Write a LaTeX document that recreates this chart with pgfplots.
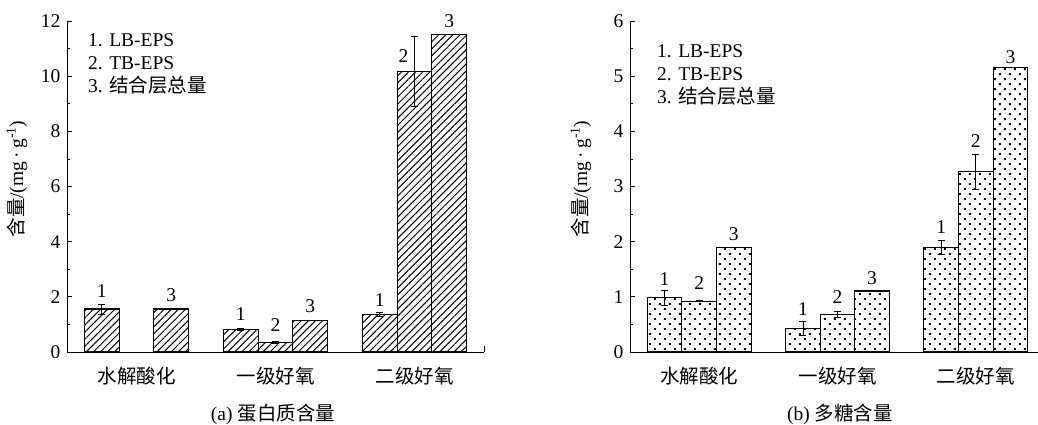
\documentclass[border=0pt]{standalone}
\usepackage{fontspec}
\setmainfont{Liberation Serif}
\newfontfamily\cjk{Noto Sans CJK SC}
\usepackage{pgfplots}
\usepackage{pgfplotstable}
\pgfplotsset{compat=1.18}
\usetikzlibrary{patterns.meta}
\newcommand\fsz{\fontsize{19.5pt}{23pt}\selectfont}

% protein (a)
\pgfplotstableread{
x y e
-0.25 1.56 0.18
0.75 0.83 0.04
1.75 1.36 0.08
}\protA
\pgfplotstableread{
x y e
1.00 0.35 0.02
2.00 10.16 1.27
}\protB
\pgfplotstableread{
x y
0.25 1.56
1.25 1.15
2.25 11.50
}\protC
% polysaccharide (b)
\pgfplotstableread{
x y e
-0.25 0.98 0.13
0.75 0.43 0.12
1.75 1.90 0.13
}\polyA
\pgfplotstableread{
x y e
0.00 0.92 0.01
1.00 0.68 0.06
2.00 3.27 0.32
}\polyB
\pgfplotstableread{
x y
0.25 1.90
1.25 1.105
2.25 5.16
}\polyC

\pgfplotsset{
  mybase/.style={
    scale only axis, anchor=south west,
    axis x line=bottom, axis y line=left,
    axis line style={-, line width=0.9pt},
    xmin=-0.5, xmax=2.5, ymin=0,
    xtick={0,1,2}, xticklabels={水解酸化,一级好氧,二级好氧},
    x tick style={draw=none},
    tick align=inside, major tick length=5pt, minor tick length=3pt,
    y tick style={line width=0.8pt, black},
    minor y tick num=1,
    xticklabel style={font=\fsz\cjk, yshift=-8pt},
    yticklabel style={font=\fsz},
    /pgf/number format/assume math mode=true,
    clip=false,
  },
  mybar/.style={ybar, bar width=34.7pt, bar shift=0pt, draw=black, line width=1.1pt},
  myerr/.style={error bars/.cd, y dir=both, y explicit,
    error mark=-,
    error bar style={line width=0.8pt, black, solid},
    error mark options={rotate=90, line width=0.8pt, black, solid, mark size=3.5pt}},
}
\tikzset{lbl/.style={anchor=south, inner sep=0pt, font=\fsz}}

\begin{document}
\fsz
\begin{tikzpicture}
\path[use as bounding box] (0,0) rectangle (1038pt,424pt);

% ---------- (a) ----------
\begin{axis}[mybase, at={(67pt,72pt)}, width=417pt, height=331pt,
  ymax=12, ytick={0,2,...,12}]
\addplot[mybar, pattern={Lines[angle=45,distance=5pt,line width=1pt]}, myerr]
  table[x=x, y=y, y error=e] {\protA};
\addplot[mybar, pattern={Lines[angle=45,distance=5pt,line width=1pt]}, myerr]
  table[x=x, y=y, y error=e] {\protB};
\addplot[mybar, pattern={Lines[angle=45,distance=5pt,line width=1pt]}]
  table[x=x, y=y] {\protC};
\node[lbl, yshift=6pt] at (axis cs:-0.25,1.74) {1};
\node[lbl, yshift=7pt] at (axis cs:0.25,1.56) {3};
\node[lbl, yshift=7pt] at (axis cs:0.75,0.87) {1};
\node[lbl, yshift=10pt] at (axis cs:1.00,0.37) {2};
\node[lbl, yshift=7pt] at (axis cs:1.25,1.15) {3};
\node[lbl, yshift=6pt] at (axis cs:1.75,1.44) {1};
\node[lbl, yshift=9pt, xshift=-11pt] at (axis cs:2.00,10.16) {2};
\node[lbl, yshift=7pt] at (axis cs:2.25,11.5) {3};
\draw[line width=0.9pt] (axis cs:2.5,0) -- ++(0pt,6pt);
\end{axis}

% ---------- (b) ----------
\begin{axis}[mybase, at={(630pt,72pt)}, width=415pt, height=331pt,
  ymax=6, ytick={0,1,...,6}]
\addplot[mybar, pattern={Dots[angle=45,distance=7.07pt,radius=1.35pt]}, myerr]
  table[x=x, y=y, y error=e] {\polyA};
\addplot[mybar, pattern={Dots[angle=45,distance=7.07pt,radius=1.35pt]}, myerr]
  table[x=x, y=y, y error=e] {\polyB};
\addplot[mybar, pattern={Dots[angle=45,distance=7.07pt,radius=1.35pt]}]
  table[x=x, y=y] {\polyC};
\node[lbl, yshift=5pt] at (axis cs:-0.25,1.11) {1};
\node[lbl, yshift=11pt] at (axis cs:0.00,0.93) {2};
\node[lbl, yshift=6pt] at (axis cs:0.25,1.90) {3};
\node[lbl, yshift=6pt] at (axis cs:0.75,0.55) {1};
\node[lbl, yshift=7pt] at (axis cs:1.00,0.74) {2};
\node[lbl, yshift=6pt] at (axis cs:1.25,1.105) {3};
\node[lbl, yshift=6pt] at (axis cs:1.75,2.03) {1};
\node[lbl, yshift=6pt] at (axis cs:2.00,3.59) {2};
\node[lbl, yshift=3pt] at (axis cs:2.25,5.16) {3};
\end{axis}

% y labels
\node[rotate=90] at (17pt,245pt) {{\cjk 含量}/(mg\,·\,g\textsuperscript{-1})};
\node[rotate=90] at (581pt,245pt) {{\cjk 含量}/(mg\,·\,g\textsuperscript{-1})};

% legends
\node[anchor=base west, inner sep=0pt] at (88pt,377pt) {1. LB-EPS};
\node[anchor=base west, inner sep=0pt] at (88pt,354pt) {2. TB-EPS};
\node[anchor=base west, inner sep=0pt] at (88pt,331pt) {3. {\cjk 结合层总量}};
\node[anchor=base west, inner sep=0pt] at (657pt,366pt) {1. LB-EPS};
\node[anchor=base west, inner sep=0pt] at (657pt,343pt) {2. TB-EPS};
\node[anchor=base west, inner sep=0pt] at (657pt,320pt) {3. {\cjk 结合层总量}};

% captions
\node at (273pt,10pt) {(a) {\cjk 蛋白质含量}};
\node at (840pt,10pt) {(b) {\cjk 多糖含量}};
\end{tikzpicture}
\end{document}
